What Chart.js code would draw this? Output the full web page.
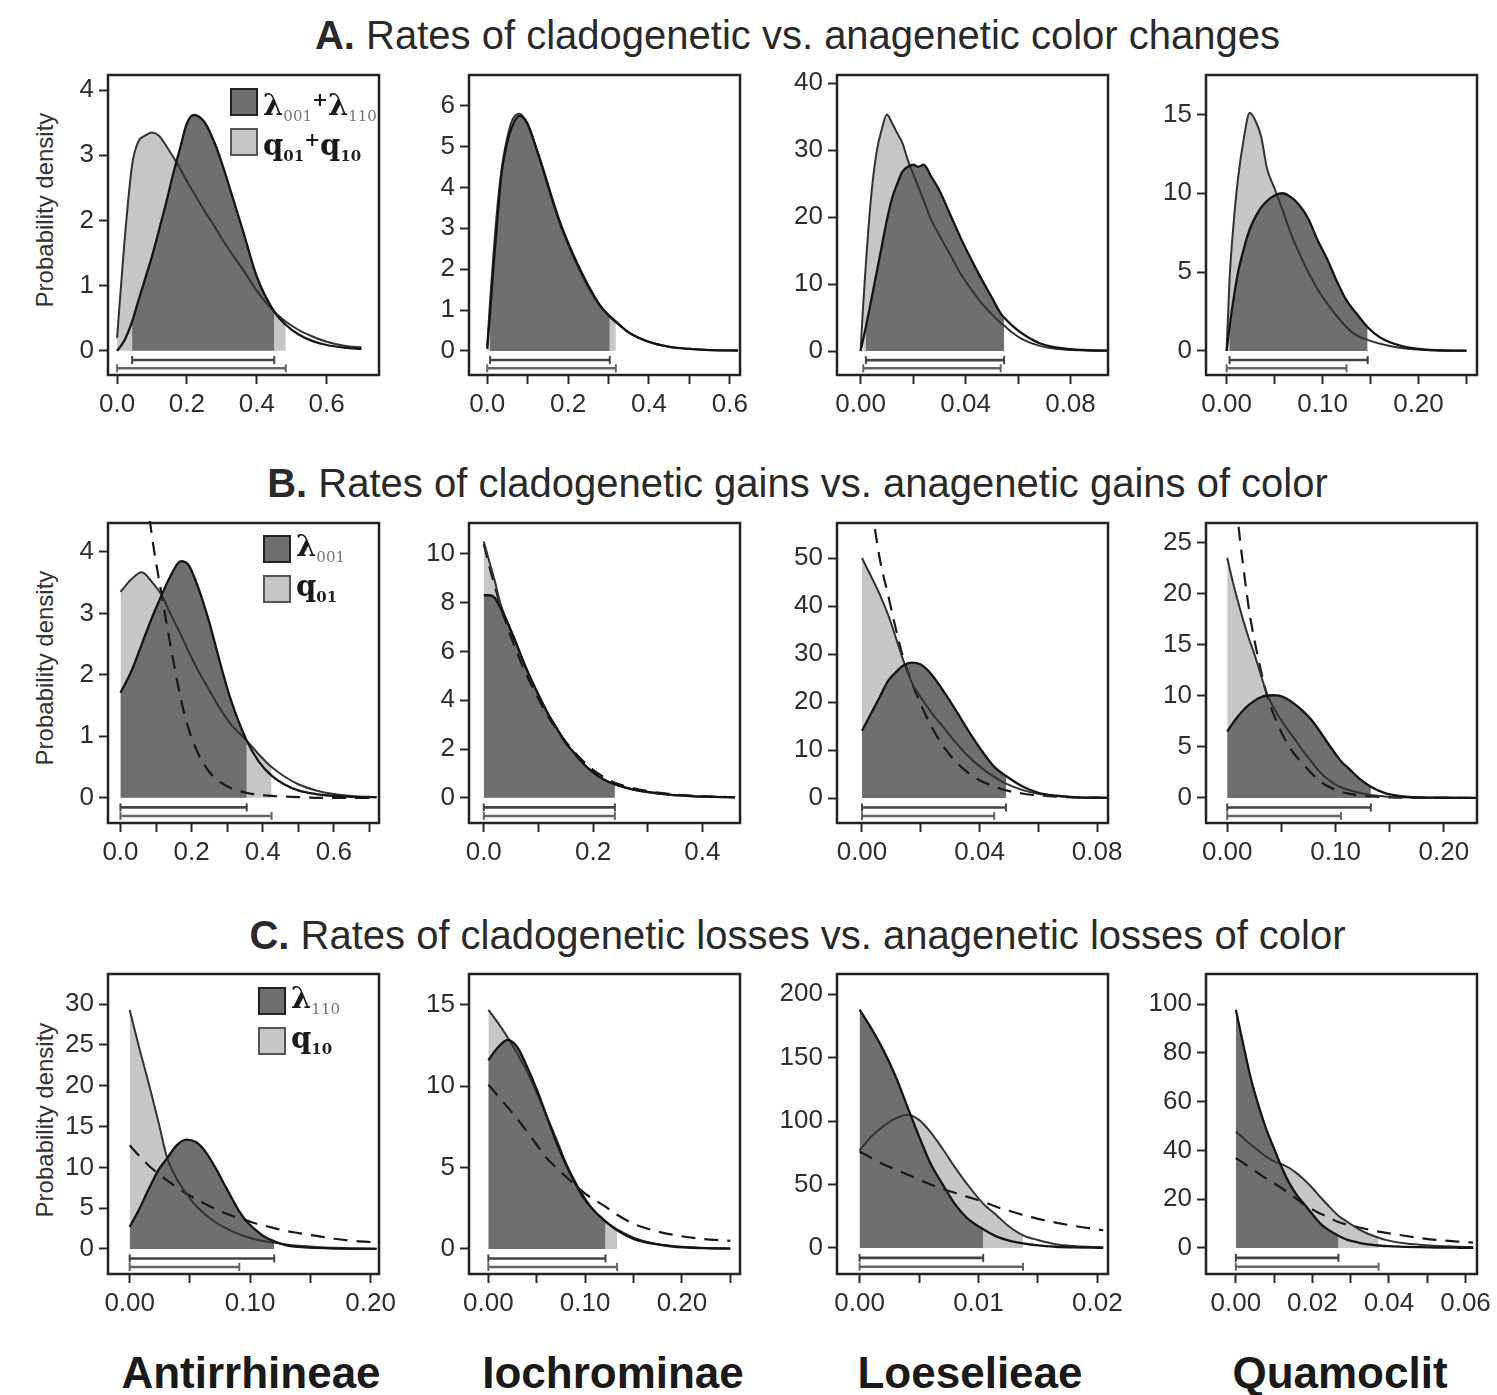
<!DOCTYPE html>
<html>
<head>
<meta charset="utf-8">
<script src="https://cdn.jsdelivr.net/npm/chart.js@4.4.1/dist/chart.umd.min.js"></script>
<style>
  body { margin: 0; background: #fff; width: 1497px; height: 1395px; position: relative; overflow: hidden;
         font-family: "Liberation Sans", Arial, sans-serif; color: #2a2a2a; }
  canvas { position: absolute; }
  .row-title { position: absolute; left: 49px; width: 1497px; text-align: center; font-size: 40px; line-height: 40px; }
  .row-title b { font-weight: bold; }
  .taxon { position: absolute; width: 340px; text-align: center; font-weight: bold; font-size: 44px; line-height: 50px; top: 1348px; color: #1a1a1a; }
  .ylab { position: absolute; width: 300px; height: 30px; line-height: 30px; text-align: center; font-size: 24px;
          transform: rotate(-90deg); white-space: nowrap; color: #333; }
  .legend { position: absolute; font-family: "DejaVu Serif", serif; font-weight: bold; color: #1a1a1a; }
  .lg-row { position: relative; height: 40px; }
  .sw { position: absolute; left: 0; top: 0; width: 24px; height: 24px; border: 2px solid #222; }
  .sw.dark { background: #6f6f6f; }
  .sw.light { background: #c6c6c6; border-color: #555; }
  .sym { position: absolute; left: 33px; top: -4px; font-size: 29px; line-height: 30px; white-space: nowrap; }
  .sym sub { font-size: 15px; vertical-align: -6px; font-weight: normal; color: #777; }
  .sym sub.bd { font-weight: bold; color: #222; }
  .sym .pl { font-size: 19px; vertical-align: 9px; }
</style>
</head>
<body>

<div class="row-title" style="top:15px"><b>A.</b> Rates of cladogenetic vs. anagenetic color changes</div>
<div class="row-title" style="top:463px"><b>B.</b> Rates of cladogenetic gains vs. anagenetic gains of color</div>
<div class="row-title" style="top:915px"><b>C.</b> Rates of cladogenetic losses vs. anagenetic losses of color</div>

<div class="ylab" style="left:-105px;top:195px">Probability density</div>
<div class="ylab" style="left:-105px;top:653px">Probability density</div>
<div class="ylab" style="left:-105px;top:1105px">Probability density</div>

<div class="taxon" style="left:81px">Antirrhineae</div>
<div class="taxon" style="left:443px">Iochrominae</div>
<div class="taxon" style="left:800px">Loeselieae</div>
<div class="taxon" style="left:1170px">Quamoclit</div>

<div id="charts"></div>

<div class="legend" style="left:230px;top:88px;z-index:5">
  <div class="lg-row"><span class="sw dark"></span><span class="sym">λ<sub>001</sub><span class="pl">+</span>λ<sub>110</sub></span></div>
  <div class="lg-row"><span class="sw light"></span><span class="sym">q<sub class="bd">01</sub><span class="pl">+</span>q<sub class="bd">10</sub></span></div>
</div>
<div class="legend" style="left:263px;top:535px;z-index:5">
  <div class="lg-row"><span class="sw dark"></span><span class="sym">λ<sub>001</sub></span></div>
  <div class="lg-row"><span class="sw light"></span><span class="sym">q<sub class="bd">01</sub></span></div>
</div>
<div class="legend" style="left:258px;top:987px;z-index:5">
  <div class="lg-row"><span class="sw dark"></span><span class="sym">λ<sub>110</sub></span></div>
  <div class="lg-row"><span class="sw light"></span><span class="sym">q<sub class="bd">10</sub></span></div>
</div>

<script>
// ---------- Row A: cladogenetic vs anagenetic changes ----------
const A1_x = [0, 0.02, 0.043, 0.06, 0.08, 0.1, 0.12, 0.14, 0.16, 0.18, 0.2, 0.22, 0.25, 0.28, 0.3, 0.33, 0.36, 0.4, 0.45, 0.483, 0.52, 0.56, 0.6, 0.65, 0.7];
const A1_lam = [0, 0.15, 0.45, 0.75, 1.1, 1.45, 1.85, 2.26, 2.7, 3.1, 3.49, 3.62, 3.51, 3.18, 2.88, 2.37, 1.85, 1.14, 0.6, 0.4, 0.25, 0.15, 0.09, 0.05, 0.03];
const A1_q = [0.2, 1.6, 2.85, 3.2, 3.3, 3.35, 3.3, 3.15, 2.98, 2.8, 2.6, 2.42, 2.15, 1.9, 1.72, 1.48, 1.25, 0.92, 0.6, 0.45, 0.32, 0.22, 0.14, 0.08, 0.05];
const A1_lamHpd = [0.043, 0.45];
const A1_qHpd = [0, 0.483];
const A1_xTicks = [0, 0.2, 0.4, 0.6];
const A1_xLabels = ['0.0', '0.2', '0.4', '0.6'];
const A1_yTicks = [0, 1, 2, 3, 4];
const A1_xRange = [-0.026, 0.75];
const A1_yRange = [-0.37, 4.23];

const A2_x = [0, 0.007, 0.015, 0.025, 0.035, 0.045, 0.06, 0.08, 0.1, 0.12, 0.14, 0.16, 0.18, 0.2, 0.22, 0.25, 0.28, 0.303, 0.318, 0.35, 0.4, 0.45, 0.5, 0.55, 0.62];
const A2_lam = [0.05, 0.9, 2.0, 3.2, 4.3, 4.9, 5.45, 5.75, 5.55, 5.0, 4.4, 3.75, 3.15, 2.65, 2.2, 1.6, 1.1, 0.85, 0.72, 0.45, 0.22, 0.1, 0.05, 0.02, 0.01];
const A2_q = [0.1, 1.2, 2.3, 3.5, 4.4, 5.0, 5.6, 5.8, 5.55, 5.0, 4.35, 3.7, 3.1, 2.6, 2.15, 1.55, 1.08, 0.83, 0.7, 0.45, 0.22, 0.1, 0.05, 0.02, 0.01];
const A2_lamHpd = [0.007, 0.303];
const A2_qHpd = [0, 0.318];
const A2_xTicks = [0, 0.1, 0.2, 0.3, 0.4, 0.5, 0.6];
const A2_xLabels = ['0.0', '', '0.2', '', '0.4', '', '0.6'];
const A2_yTicks = [0, 1, 2, 3, 4, 5, 6];
const A2_xRange = [-0.045, 0.625];
const A2_yRange = [-0.59, 6.75];

const A3_x = [0, 0.001, 0.002, 0.004, 0.006, 0.008, 0.01, 0.012, 0.014, 0.016, 0.018, 0.02, 0.022, 0.024, 0.027, 0.03, 0.034, 0.038, 0.042, 0.046, 0.05, 0.0534, 0.0547, 0.058, 0.062, 0.068, 0.075, 0.085, 0.094];
const A3_lam = [0, 1.8, 3.6, 7.5, 11.5, 15.5, 19.5, 22.8, 25, 26.8, 27.5, 27.8, 27.5, 27.8, 26, 24, 20.5, 17, 13.8, 10.8, 8.0, 5.6, 5.0, 3.7, 2.5, 1.2, 0.5, 0.15, 0.05];
const A3_q = [0, 7, 13, 23, 29.5, 33, 35.3, 34, 32.5, 31, 28.5, 26.5, 24.5, 22.5, 19.5, 17.3, 14.5, 11.6, 9.3, 7.2, 5.5, 4.2, 3.8, 2.7, 1.7, 0.8, 0.3, 0.1, 0.03];
const A3_lamHpd = [0.002, 0.0547];
const A3_qHpd = [0.001, 0.0534];
const A3_xTicks = [0, 0.02, 0.04, 0.06, 0.08];
const A3_xLabels = ['0.00', '', '0.04', '', '0.08'];
const A3_yTicks = [0, 10, 20, 30, 40];
const A3_xRange = [-0.009, 0.0943];
const A3_yRange = [-3.58, 41.2];

const A4_x = [0, 0.003, 0.007, 0.012, 0.018, 0.024, 0.03, 0.036, 0.042, 0.05, 0.058, 0.066, 0.075, 0.085, 0.095, 0.105, 0.115, 0.125, 0.135, 0.147, 0.16, 0.18, 0.2, 0.22, 0.25];
const A4_lam = [0, 1.5, 3.2, 5.0, 6.5, 7.7, 8.5, 9.1, 9.5, 9.85, 10.0, 9.8, 9.3, 8.4, 7.0, 5.8, 4.4, 3.2, 2.4, 1.5, 0.85, 0.35, 0.12, 0.04, 0.01];
const A4_q = [0, 4.5, 7.9, 11, 13.5, 15.1, 14.6, 13.6, 11.6, 10.3, 9.0, 7.6, 6.3, 5.0, 3.9, 3.0, 2.2, 1.5, 1.0, 0.7, 0.45, 0.2, 0.08, 0.03, 0.01];
const A4_lamHpd = [0.003, 0.147];
const A4_qHpd = [0, 0.125];
const A4_xTicks = [0, 0.05, 0.1, 0.15, 0.2, 0.25];
const A4_xLabels = ['0.00', '', '0.10', '', '0.20', ''];
const A4_yTicks = [0, 5, 10, 15];
const A4_xRange = [-0.0215, 0.261];
const A4_yRange = [-1.53, 17.5];

// ---------- Row B: gains (with dashed prior) ----------
const B1_x = [0, 0.03, 0.06, 0.09, 0.116, 0.14, 0.17, 0.19, 0.22, 0.25, 0.28, 0.31, 0.355, 0.39, 0.425, 0.46, 0.5, 0.55, 0.6, 0.65, 0.72];
const B1_lam = [1.71, 2.05, 2.5, 2.95, 3.3, 3.6, 3.85, 3.8, 3.4, 2.85, 2.2, 1.6, 0.93, 0.58, 0.36, 0.22, 0.12, 0.06, 0.03, 0.015, 0.01];
const B1_q = [3.35, 3.55, 3.67, 3.5, 3.3, 3.0, 2.65, 2.4, 2.05, 1.75, 1.45, 1.2, 0.93, 0.7, 0.5, 0.35, 0.22, 0.12, 0.06, 0.03, 0.01];
const B1_prior = [9, 7.5, 5.6, 4.2, 3.3, 2.5, 1.6, 1.15, 0.7, 0.42, 0.26, 0.16, 0.08, 0.05, 0.03, 0.02, 0.01, 0, 0, 0, 0];
const B1_lamHpd = [0, 0.355];
const B1_qHpd = [0, 0.425];
const B1_xTicks = [0, 0.1, 0.2, 0.3, 0.4, 0.5, 0.6, 0.7];
const B1_xLabels = ['0.0', '', '0.2', '', '0.4', '', '0.6', ''];
const B1_yTicks = [0, 1, 2, 3, 4];
const B1_xRange = [-0.035, 0.727];
const B1_yRange = [-0.41, 4.47];

const B2_x = [0, 0.01, 0.02, 0.03, 0.045, 0.06, 0.075, 0.09, 0.105, 0.12, 0.135, 0.15, 0.165, 0.18, 0.2, 0.22, 0.24, 0.27, 0.3, 0.34, 0.38, 0.42, 0.46];
const B2_lam = [8.3, 8.3, 8.2, 7.8, 7.1, 6.3, 5.45, 4.7, 4.0, 3.35, 2.8, 2.25, 1.85, 1.45, 1.05, 0.75, 0.55, 0.36, 0.24, 0.13, 0.07, 0.04, 0.02];
const B2_q = [10.5, 9.7, 8.9, 8.0, 7.1, 6.3, 5.45, 4.7, 4.0, 3.35, 2.8, 2.25, 1.85, 1.45, 1.05, 0.75, 0.55, 0.36, 0.24, 0.13, 0.07, 0.04, 0.02];
const B2_prior = [10.4, 9.5, 8.7, 7.9, 6.9, 6.0, 5.2, 4.5, 3.85, 3.25, 2.75, 2.3, 1.9, 1.55, 1.15, 0.85, 0.62, 0.42, 0.28, 0.16, 0.09, 0.05, 0.03];
const B2_lamHpd = [0, 0.24];
const B2_qHpd = [0, 0.24];
const B2_xTicks = [0, 0.1, 0.2, 0.3, 0.4];
const B2_xLabels = ['0.0', '', '0.2', '', '0.4'];
const B2_yTicks = [0, 2, 4, 6, 8, 10];
const B2_xRange = [-0.027, 0.469];
const B2_yRange = [-1.03, 11.26];

const B3_x = [0, 0.003, 0.006, 0.009, 0.012, 0.014, 0.017, 0.02, 0.024, 0.028, 0.032, 0.036, 0.04, 0.045, 0.049, 0.055, 0.06, 0.066, 0.072, 0.08, 0.084];
const B3_lam = [14, 17.5, 21, 24.5, 26.5, 27.6, 28.2, 27.8, 25.5, 22, 18.2, 14.2, 10.5, 6.5, 4.6, 2.3, 1.1, 0.5, 0.2, 0.07, 0.04];
const B3_q = [50, 46.3, 42.5, 38, 32.5, 28.8, 24, 21, 17.5, 14.5, 11.5, 8.8, 6.6, 4.4, 3.0, 1.6, 0.9, 0.4, 0.18, 0.06, 0.03];
const B3_prior = [75, 62, 50, 42, 34, 29.3, 24, 19.5, 14.5, 10.5, 7.5, 5.3, 3.7, 2.4, 1.6, 0.9, 0.55, 0.3, 0.15, 0.07, 0.05];
const B3_lamHpd = [0, 0.049];
const B3_qHpd = [0, 0.045];
const B3_xTicks = [0, 0.02, 0.04, 0.06, 0.08];
const B3_xLabels = ['0.00', '', '0.04', '', '0.08'];
const B3_yTicks = [0, 10, 20, 30, 40, 50];
const B3_xRange = [-0.0085, 0.0837];
const B3_yRange = [-5.2, 57.3];

const B4_x = [0, 0.005, 0.01, 0.015, 0.02, 0.025, 0.03, 0.036, 0.042, 0.048, 0.055, 0.062, 0.07, 0.078, 0.085, 0.092, 0.1, 0.105, 0.113, 0.122, 0.1326, 0.145, 0.16, 0.18, 0.2, 0.23];
const B4_lam = [6.5, 7.3, 8.0, 8.6, 9.1, 9.5, 9.8, 10.0, 10.05, 10.0, 9.7, 9.2, 8.5, 7.6, 6.6, 5.5, 4.3, 3.6, 2.8, 1.9, 1.1, 0.5, 0.18, 0.05, 0.02, 0.01];
const B4_q = [23.5, 21.2, 19.2, 17.3, 15.6, 14.1, 12.4, 10.4, 9.0, 7.9, 6.8, 5.8, 4.6, 3.5, 2.6, 1.9, 1.3, 1.05, 0.75, 0.5, 0.28, 0.15, 0.06, 0.02, 0.01, 0];
const B4_prior = [40, 33, 27, 22.5, 18.5, 15.5, 13, 10.3, 8.4, 6.9, 5.4, 4.3, 3.3, 2.4, 1.7, 1.2, 0.8, 0.6, 0.4, 0.26, 0.15, 0.08, 0.04, 0.02, 0.01, 0];
const B4_lamHpd = [0, 0.1326];
const B4_qHpd = [0, 0.105];
const B4_xTicks = [0, 0.05, 0.1, 0.15, 0.2];
const B4_xLabels = ['0.00', '', '0.10', '', '0.20'];
const B4_yTicks = [0, 5, 10, 15, 20, 25];
const B4_xRange = [-0.0196, 0.2306];
const B4_yRange = [-2.45, 26.9];

// ---------- Row C: losses (with dashed prior) ----------
const C1_x = [0, 0.008, 0.016, 0.024, 0.031, 0.039, 0.047, 0.055, 0.063, 0.071, 0.079, 0.086, 0.091, 0.097, 0.104, 0.112, 0.12, 0.13, 0.14, 0.155, 0.17, 0.185, 0.205];
const C1_lam = [2.7, 4.9, 7.4, 9.7, 11.1, 12.7, 13.4, 13.1, 11.9, 10.0, 7.8, 5.9, 4.6, 3.4, 2.4, 1.5, 0.95, 0.45, 0.25, 0.12, 0.05, 0.02, 0.01];
const C1_q = [29.3, 24.6, 20.2, 15.5, 11.2, 8.6, 6.8, 5.3, 4.2, 3.3, 2.6, 2.1, 1.8, 1.5, 1.2, 0.95, 0.75, 0.55, 0.4, 0.25, 0.15, 0.08, 0.04];
const C1_prior = [12.7, 11.4, 10.2, 9.2, 8.4, 7.6, 6.8, 6.1, 5.5, 4.9, 4.4, 4.0, 3.75, 3.5, 3.15, 2.85, 2.55, 2.2, 1.95, 1.6, 1.25, 1.0, 0.8];
const C1_lamHpd = [0, 0.12];
const C1_qHpd = [0, 0.091];
const C1_xTicks = [0, 0.05, 0.1, 0.15, 0.2];
const C1_xLabels = ['0.00', '', '0.10', '', '0.20'];
const C1_yTicks = [0, 5, 10, 15, 20, 25, 30];
const C1_xRange = [-0.018, 0.207];
const C1_yRange = [-3.07, 33.7];

const C2_x = [0, 0.01, 0.02, 0.03, 0.04, 0.05, 0.06, 0.07, 0.08, 0.09, 0.1, 0.11, 0.121, 0.133, 0.15, 0.17, 0.19, 0.22, 0.25];
const C2_lam = [11.6, 12.4, 12.85, 12.4, 11.2, 9.8, 8.2, 6.6, 5.2, 4.0, 3.0, 2.3, 1.7, 1.15, 0.62, 0.32, 0.15, 0.05, 0.02];
const C2_q = [14.7, 13.9, 13.0, 12.0, 10.9, 9.6, 8.2, 6.8, 5.3, 4.1, 3.1, 2.3, 1.7, 1.2, 0.7, 0.35, 0.18, 0.07, 0.03];
const C2_prior = [10.1, 9.4, 8.7, 8.0, 7.2, 6.4, 5.6, 5.0, 4.45, 3.9, 3.4, 3.0, 2.6, 2.1, 1.55, 1.15, 0.88, 0.62, 0.5];
const C2_lamHpd = [0, 0.121];
const C2_qHpd = [0, 0.133];
const C2_xTicks = [0, 0.05, 0.1, 0.15, 0.2, 0.25];
const C2_xLabels = ['0.00', '', '0.10', '', '0.20', ''];
const C2_yTicks = [0, 5, 10, 15];
const C2_xRange = [-0.02, 0.26];
const C2_yRange = [-1.54, 16.9];

const C3_x = [0, 0.001, 0.002, 0.003, 0.004, 0.005, 0.006, 0.007, 0.008, 0.009, 0.0104, 0.0115, 0.0125, 0.01375, 0.015, 0.0165, 0.018, 0.0195, 0.0205];
const C3_lam = [188, 173, 156, 136, 112, 88, 66, 50, 35, 24, 14.8, 9.2, 6.0, 3.6, 2.0, 1.0, 0.5, 0.25, 0.15];
const C3_q = [77, 88, 96, 102, 105, 101, 91, 78, 64, 51, 35, 26, 17.5, 10, 6.3, 3.0, 1.5, 0.8, 0.5];
const C3_prior = [76, 71, 66, 62, 58, 54, 50, 46.5, 43.5, 40.5, 36.5, 32.5, 29.5, 26, 23, 20, 17.5, 15.3, 14];
const C3_lamHpd = [0, 0.0104];
const C3_qHpd = [0, 0.01375];
const C3_xTicks = [0, 0.005, 0.01, 0.015, 0.02];
const C3_xLabels = ['0.00', '', '0.01', '', '0.02'];
const C3_yTicks = [0, 50, 100, 150, 200];
const C3_xRange = [-0.0019, 0.0209];
const C3_yRange = [-20.5, 216];

const C4_x = [0, 0.002, 0.004, 0.006, 0.008, 0.01, 0.012, 0.014, 0.016, 0.018, 0.02, 0.022, 0.024, 0.0268, 0.029, 0.032, 0.0345, 0.0373, 0.04, 0.044, 0.048, 0.053, 0.058, 0.062];
const C4_lam = [97.7, 83, 69, 58, 48.5, 40.7, 33, 26.5, 21.5, 17.7, 13.8, 10.1, 7.6, 5.0, 3.4, 2.2, 1.5, 1.0, 0.7, 0.45, 0.3, 0.15, 0.08, 0.05];
const C4_q = [47.8, 45, 42.3, 39.8, 37.4, 35.5, 34.4, 32.8, 30.5, 27.8, 24.6, 21.0, 17.6, 13.2, 10.8, 7.8, 5.8, 4.2, 3.0, 1.9, 1.3, 0.8, 0.5, 0.35];
const C4_prior = [36.9, 34.8, 32.6, 30.5, 28.4, 26.6, 24.5, 22.3, 20.0, 17.5, 15.8, 14.1, 12.8, 10.6, 9.6, 8.5, 7.6, 6.7, 6.0, 5.0, 4.1, 3.2, 2.6, 2.2];
const C4_lamHpd = [0, 0.0268];
const C4_qHpd = [0, 0.0373];
const C4_xTicks = [0, 0.01, 0.02, 0.03, 0.04, 0.05, 0.06];
const C4_xLabels = ['0.00', '', '0.02', '', '0.04', '', '0.06'];
const C4_yTicks = [0, 20, 40, 60, 80, 100];
const C4_xRange = [-0.0078, 0.063];
const C4_yRange = [-10.7, 112.4];

// ---------- layout / style ----------
const FONT = '"Liberation Sans", Arial, sans-serif';
const DARK = '#6f6f6f';
const LIGHT = '#c6c6c6';
const BOX_LEFT = [108, 469, 837, 1206];
const BOX_TOP = [75, 523, 974];
const BOX_W = 271, BOX_H = 300;
const M_LEFT = 82, M_TOP = 12, M_RIGHT = 30, M_BOTTOM = 56;

const panels = [
  { row: 0, col: 0, x: A1_x, lam: A1_lam, q: A1_q, prior: null, lamHpd: A1_lamHpd, qHpd: A1_qHpd, xTicks: A1_xTicks, xLabels: A1_xLabels, yTicks: A1_yTicks, xRange: A1_xRange, yRange: A1_yRange },
  { row: 0, col: 1, x: A2_x, lam: A2_lam, q: A2_q, prior: null, lamHpd: A2_lamHpd, qHpd: A2_qHpd, xTicks: A2_xTicks, xLabels: A2_xLabels, yTicks: A2_yTicks, xRange: A2_xRange, yRange: A2_yRange },
  { row: 0, col: 2, x: A3_x, lam: A3_lam, q: A3_q, prior: null, lamHpd: A3_lamHpd, qHpd: A3_qHpd, xTicks: A3_xTicks, xLabels: A3_xLabels, yTicks: A3_yTicks, xRange: A3_xRange, yRange: A3_yRange },
  { row: 0, col: 3, x: A4_x, lam: A4_lam, q: A4_q, prior: null, lamHpd: A4_lamHpd, qHpd: A4_qHpd, xTicks: A4_xTicks, xLabels: A4_xLabels, yTicks: A4_yTicks, xRange: A4_xRange, yRange: A4_yRange },
  { row: 1, col: 0, x: B1_x, lam: B1_lam, q: B1_q, prior: B1_prior, lamHpd: B1_lamHpd, qHpd: B1_qHpd, xTicks: B1_xTicks, xLabels: B1_xLabels, yTicks: B1_yTicks, xRange: B1_xRange, yRange: B1_yRange },
  { row: 1, col: 1, x: B2_x, lam: B2_lam, q: B2_q, prior: B2_prior, lamHpd: B2_lamHpd, qHpd: B2_qHpd, xTicks: B2_xTicks, xLabels: B2_xLabels, yTicks: B2_yTicks, xRange: B2_xRange, yRange: B2_yRange },
  { row: 1, col: 2, x: B3_x, lam: B3_lam, q: B3_q, prior: B3_prior, lamHpd: B3_lamHpd, qHpd: B3_qHpd, xTicks: B3_xTicks, xLabels: B3_xLabels, yTicks: B3_yTicks, xRange: B3_xRange, yRange: B3_yRange },
  { row: 1, col: 3, x: B4_x, lam: B4_lam, q: B4_q, prior: B4_prior, lamHpd: B4_lamHpd, qHpd: B4_qHpd, xTicks: B4_xTicks, xLabels: B4_xLabels, yTicks: B4_yTicks, xRange: B4_xRange, yRange: B4_yRange },
  { row: 2, col: 0, x: C1_x, lam: C1_lam, q: C1_q, prior: C1_prior, lamHpd: C1_lamHpd, qHpd: C1_qHpd, xTicks: C1_xTicks, xLabels: C1_xLabels, yTicks: C1_yTicks, xRange: C1_xRange, yRange: C1_yRange },
  { row: 2, col: 1, x: C2_x, lam: C2_lam, q: C2_q, prior: C2_prior, lamHpd: C2_lamHpd, qHpd: C2_qHpd, xTicks: C2_xTicks, xLabels: C2_xLabels, yTicks: C2_yTicks, xRange: C2_xRange, yRange: C2_yRange },
  { row: 2, col: 2, x: C3_x, lam: C3_lam, q: C3_q, prior: C3_prior, lamHpd: C3_lamHpd, qHpd: C3_qHpd, xTicks: C3_xTicks, xLabels: C3_xLabels, yTicks: C3_yTicks, xRange: C3_xRange, yRange: C3_yRange },
  { row: 2, col: 3, x: C4_x, lam: C4_lam, q: C4_q, prior: C4_prior, lamHpd: C4_lamHpd, qHpd: C4_qHpd, xTicks: C4_xTicks, xLabels: C4_xLabels, yTicks: C4_yTicks, xRange: C4_xRange, yRange: C4_yRange }
];

// frame around the plot region, like R's box()
const boxPlugin = {
  id: 'box',
  afterDatasetsDraw(chart) {
    const { ctx, chartArea: a } = chart;
    ctx.save();
    ctx.strokeStyle = '#222';
    ctx.lineWidth = 2.5;
    ctx.strokeRect(a.left, a.top, a.right - a.left, a.bottom - a.top);
    ctx.restore();
  }
};

function toPoints(x, y) {
  return x.map((v, i) => ({ x: v, y: y[i] }));
}

// only the part of a curve inside its credible interval gets shaded
function hpdPoints(x, y, hpd) {
  const pts = [];
  x.forEach((v, i) => {
    if (v >= hpd[0] - 1e-9 && v <= hpd[1] + 1e-9) pts.push({ x: v, y: y[i] });
  });
  return pts;
}

function curve(points, color, width, order, dash) {
  return {
    data: points, borderColor: color, borderWidth: width, borderDash: dash || [],
    pointRadius: 0, fill: false, cubicInterpolationMode: 'monotone', order: order, clip: 2
  };
}

function shade(points, color, order) {
  return {
    data: points, borderWidth: 0, borderColor: 'rgba(0,0,0,0)', backgroundColor: color,
    pointRadius: 0, fill: 'origin', cubicInterpolationMode: 'monotone', order: order
  };
}

function bar(hpd, y, color) {
  return {
    data: [{ x: hpd[0], y: y }, { x: hpd[1], y: y }],
    borderColor: color, borderWidth: 2.6, fill: false,
    pointStyle: 'line', rotation: 90, pointRadius: 4, pointBorderWidth: 2, pointBorderColor: color,
    order: 0, clip: false
  };
}

const holder = document.getElementById('charts');

panels.forEach(p => {
  const canvas = document.createElement('canvas');
  const w = M_LEFT + BOX_W + M_RIGHT;
  const h = M_TOP + BOX_H + M_BOTTOM;
  canvas.width = w;
  canvas.height = h;
  canvas.style.width = w + 'px';
  canvas.style.height = h + 'px';
  canvas.style.left = (BOX_LEFT[p.col] - M_LEFT) + 'px';
  canvas.style.top = (BOX_TOP[p.row] - M_TOP) + 'px';
  holder.appendChild(canvas);

  const yMin = p.yRange[0];
  const datasets = [
    shade(hpdPoints(p.x, p.q, p.qHpd), LIGHT, 7),
    shade(hpdPoints(p.x, p.lam, p.lamHpd), DARK, 6),
    curve(toPoints(p.x, p.q), '#333', 2, 3),
    curve(toPoints(p.x, p.lam), '#151515', 2.3, 2),
    bar(p.lamHpd, yMin * 0.38, '#444'),
    bar(p.qHpd, yMin * 0.72, '#666')
  ];
  if (p.prior) datasets.push(curve(toPoints(p.x, p.prior), '#1a1a1a', 2.2, 4, [14, 9]));

  new Chart(canvas, {
    type: 'line',
    data: { datasets: datasets },
    options: {
      responsive: false,
      animation: false,
      events: [],
      layout: { padding: { left: 0, top: M_TOP, right: M_RIGHT, bottom: 0 } },
      plugins: { legend: { display: false }, tooltip: { enabled: false } },
      scales: {
        x: {
          type: 'linear',
          min: p.xRange[0],
          max: p.xRange[1],
          afterBuildTicks: s => { s.ticks = p.xTicks.map(v => ({ value: v })); },
          afterFit: s => { s.height = M_BOTTOM; s.paddingLeft = 0; s.paddingRight = 0; },
          ticks: {
            autoSkip: false, maxRotation: 0, padding: 5, color: '#2e2e2e',
            font: { family: FONT, size: 26 },
            callback: (v, i) => p.xLabels[i]
          },
          grid: { drawOnChartArea: false, drawTicks: true, tickLength: 9, tickWidth: 2, color: '#2a2a2a' },
          border: { display: false }
        },
        y: {
          type: 'linear',
          min: p.yRange[0],
          max: p.yRange[1],
          afterBuildTicks: s => { s.ticks = p.yTicks.map(v => ({ value: v })); },
          afterFit: s => { s.width = M_LEFT; s.paddingTop = 0; s.paddingBottom = 0; },
          ticks: {
            autoSkip: false, padding: 5, color: '#2e2e2e',
            font: { family: FONT, size: 26 },
            callback: v => String(v)
          },
          grid: { drawOnChartArea: false, drawTicks: true, tickLength: 9, tickWidth: 2, color: '#2a2a2a' },
          border: { display: false }
        }
      }
    },
    plugins: [boxPlugin]
  });
});
</script>
</body>
</html>
